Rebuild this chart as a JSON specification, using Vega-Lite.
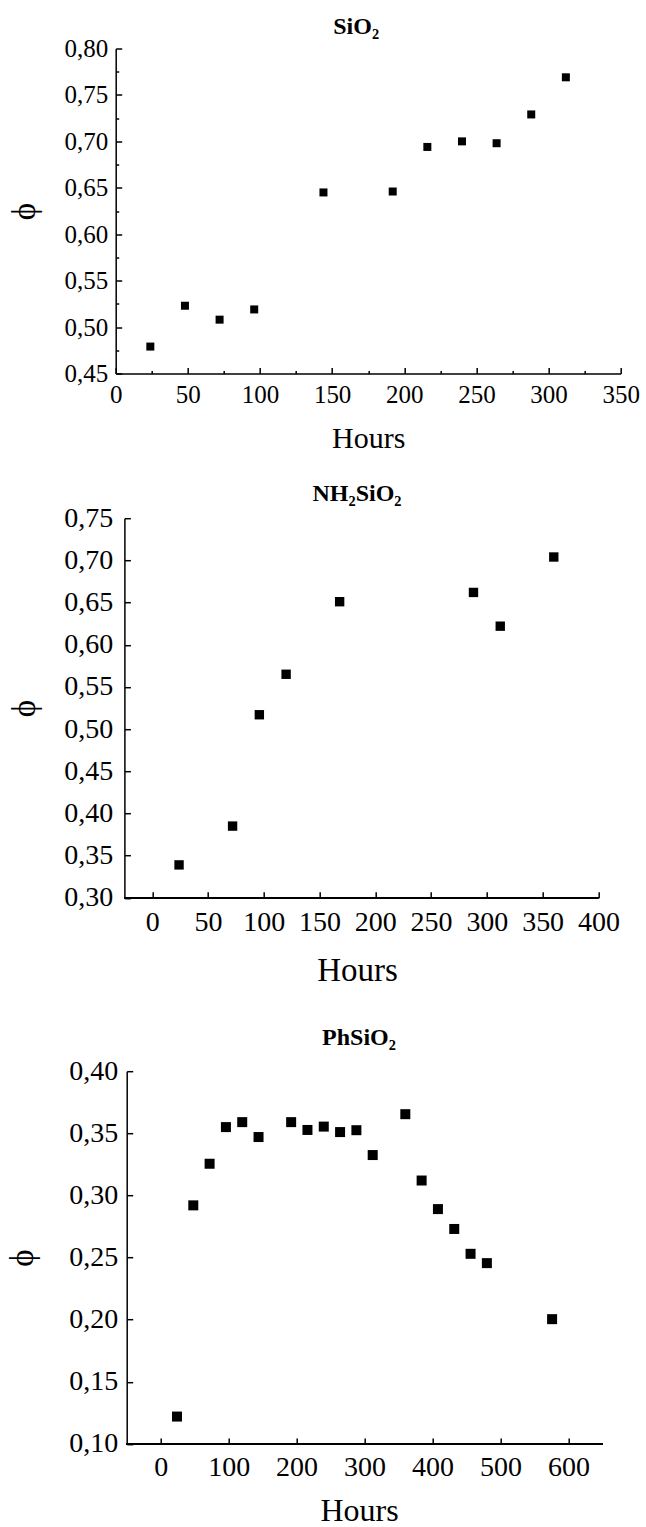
{
  "$schema": "https://vega.github.io/schema/vega-lite/v6.json",
  "padding": {"left": 5.7, "top": 14.5, "right": 0, "bottom": 0},
  "background": "white",
  "config": {
    "view": {"stroke": null},
    "axis": {
      "grid": false,
      "domainColor": "black",
      "domainWidth": 1.5,
      "tickColor": "black",
      "tickWidth": 1.5,
      "labelColor": "black",
      "titleColor": "black",
      "labelFont": "Liberation Serif",
      "titleFont": "Liberation Serif",
      "titleFontWeight": "normal",
      "labelOverlap": false,
      "labelFlush": false,
      "labelBound": false
    },
    "title": {"font": "Liberation Serif", "fontWeight": "bold", "fontSize": 24, "color": "black", "frame": "group", "anchor": "middle"}
  },
  "datasets": {
    "sio2": [
      {"hours": 24, "phi": 0.479},
      {"hours": 48, "phi": 0.523},
      {"hours": 72, "phi": 0.508},
      {"hours": 96, "phi": 0.519},
      {"hours": 144, "phi": 0.645},
      {"hours": 192, "phi": 0.646},
      {"hours": 216, "phi": 0.694},
      {"hours": 240, "phi": 0.700},
      {"hours": 264, "phi": 0.698},
      {"hours": 288, "phi": 0.729},
      {"hours": 312, "phi": 0.769}
    ],
    "nh2sio2": [
      {"hours": 24, "phi": 0.339},
      {"hours": 72, "phi": 0.385},
      {"hours": 96, "phi": 0.517},
      {"hours": 120, "phi": 0.565},
      {"hours": 168, "phi": 0.651},
      {"hours": 288, "phi": 0.662},
      {"hours": 312, "phi": 0.622},
      {"hours": 360, "phi": 0.704}
    ],
    "phsio2": [
      {"hours": 24, "phi": 0.122},
      {"hours": 48, "phi": 0.292},
      {"hours": 72, "phi": 0.3255},
      {"hours": 96, "phi": 0.355},
      {"hours": 120, "phi": 0.359},
      {"hours": 144, "phi": 0.347},
      {"hours": 192, "phi": 0.359},
      {"hours": 216, "phi": 0.3527},
      {"hours": 240, "phi": 0.3554},
      {"hours": 264, "phi": 0.351},
      {"hours": 288, "phi": 0.3525},
      {"hours": 312, "phi": 0.3325},
      {"hours": 360, "phi": 0.3654},
      {"hours": 384, "phi": 0.312},
      {"hours": 408, "phi": 0.289},
      {"hours": 432, "phi": 0.273},
      {"hours": 456, "phi": 0.253},
      {"hours": 480, "phi": 0.2455},
      {"hours": 576, "phi": 0.2004}
    ]
  },
  "columns": 1,
  "align": "none",
  "spacing": 27.7,
  "concat": [
    {
      "width": 505,
      "height": 325,
      "title": {"text": "SiO₂", "offset": -2, "dx": -12},
      "data": {"name": "sio2"},
      "mark": {"type": "point", "shape": "square", "filled": true, "color": "black", "opacity": 1, "size": 64, "strokeWidth": 0},
      "encoding": {
        "x": {
          "field": "hours", "type": "quantitative",
          "scale": {"domain": [0, 350], "nice": false, "zero": false},
          "axis": {
            "title": "Hours", "titleFontSize": 30, "titlePadding": 16,
            "labelFontSize": 25,
            "values": [0, 25, 50, 75, 100, 125, 150, 175, 200, 225, 250, 275, 300, 325, 350],
            "labelExpr": "datum.value % 50 === 0 ? format(datum.value, 'd') : ''",
            "tickSize": {"condition": {"test": "datum.value % 50 === 0", "value": -6}, "value": -3},
            "labelPadding": {"condition": {"test": "datum.value % 50 === 0", "value": 14.7}, "value": 11.7},
            "minExtent": 34, "maxExtent": 34
          }
        },
        "y": {
          "field": "phi", "type": "quantitative",
          "scale": {"domain": [0.45, 0.8], "nice": false, "zero": false},
          "axis": {
            "title": "ϕ", "titleFontSize": 33, "titlePadding": 20.7,
            "labelFontSize": 25,
            "values": [0.45, 0.475, 0.5, 0.525, 0.55, 0.575, 0.6, 0.625, 0.65, 0.675, 0.7, 0.725, 0.75, 0.775, 0.8],
            "labelExpr": "round(datum.value * 1000) % 50 === 0 ? replace(format(datum.value, '.2f'), '.', ',') : ''",
            "tickSize": {"condition": {"test": "round(datum.value * 1000) % 50 === 0", "value": -6}, "value": -3},
            "labelPadding": {"condition": {"test": "round(datum.value * 1000) % 50 === 0", "value": 14}, "value": 11},
            "minExtent": 53.3, "maxExtent": 53.3
          }
        }
      }
    },
    {
      "columns": 1,
      "align": "none",
      "spacing": 38,
      "concat": [
        {
          "width": 482.7,
          "height": 379.6,
          "title": {"text": "NH₂SiO₂", "offset": -1.3, "dx": 0},
          "data": {"name": "nh2sio2"},
          "layer": [
            {
              "mark": {"type": "rule", "color": "black", "strokeWidth": 1.5},
              "encoding": {
                "x": {"datum": -25, "type": "quantitative"},
                "x2": {"datum": 400},
                "y": {"datum": 0.3, "type": "quantitative"}
              }
            },
            {
              "mark": {"type": "point", "shape": "square", "filled": true, "color": "black", "opacity": 1, "size": 88, "strokeWidth": 0},
              "encoding": {
                "x": {
                  "field": "hours", "type": "quantitative",
                  "scale": {"domain": [-32.8, 400], "nice": false, "zero": false},
                  "axis": {
                    "title": "Hours", "titleFontSize": 33, "titlePadding": 17.6,
                    "labelFontSize": 28,
                    "domain": false,
                    "values": [0, 25, 50, 75, 100, 125, 150, 175, 200, 225, 250, 275, 300, 325, 350, 375, 400],
                    "labelExpr": "datum.value % 50 === 0 ? format(datum.value, 'd') : ''",
                    "tickSize": {"condition": {"test": "datum.value % 50 === 0", "value": -6}, "value": -3},
                    "labelPadding": {"condition": {"test": "datum.value % 50 === 0", "value": 16.6}, "value": 13.6},
                    "minExtent": 39, "maxExtent": 39
                  }
                },
                "y": {
                  "field": "phi", "type": "quantitative",
                  "scale": {"domain": [0.3, 0.75], "nice": false, "zero": false},
                  "axis": {
                    "title": "ϕ", "titleFontSize": 33, "titlePadding": 21.3,
                    "labelFontSize": 28,
                    "offset": -8.7,
                    "values": [0.3, 0.325, 0.35, 0.375, 0.4, 0.425, 0.45, 0.475, 0.5, 0.525, 0.55, 0.575, 0.6, 0.625, 0.65, 0.675, 0.7, 0.725, 0.75],
                    "labelExpr": "round(datum.value * 1000) % 50 === 0 ? replace(format(datum.value, '.2f'), '.', ',') : ''",
                    "tickSize": {"condition": {"test": "round(datum.value * 1000) % 50 === 0", "value": -6}, "value": -3},
                    "labelPadding": {"condition": {"test": "round(datum.value * 1000) % 50 === 0", "value": 17.7}, "value": 14.7},
                    "minExtent": 61.7, "maxExtent": 61.7
                  }
                }
              }
            }
          ]
        },
        {
          "width": 486.7,
          "height": 372.7,
          "title": {"text": "PhSiO₂", "offset": 7, "dx": 0},
          "data": {"name": "phsio2"},
          "layer": [
            {
              "mark": {"type": "rule", "color": "black", "strokeWidth": 1.5},
              "encoding": {
                "x": {"datum": -50, "type": "quantitative"},
                "x2": {"datum": 650},
                "y": {"datum": 0.1, "type": "quantitative"}
              }
            },
            {
              "mark": {"type": "point", "shape": "square", "filled": true, "color": "black", "opacity": 1, "size": 100, "strokeWidth": 0},
              "encoding": {
                "x": {
                  "field": "hours", "type": "quantitative",
                  "scale": {"domain": [-66.19, 650], "nice": false, "zero": false},
                  "axis": {
                    "title": "Hours", "titleFontSize": 32, "titlePadding": 14.5,
                    "labelFontSize": 28,
                    "domain": false,
                    "values": [0, 50, 100, 150, 200, 250, 300, 350, 400, 450, 500, 550, 600, 650],
                    "labelExpr": "datum.value % 100 === 0 ? format(datum.value, 'd') : ''",
                    "tickSize": {"condition": {"test": "datum.value % 100 === 0", "value": -6}, "value": -3},
                    "labelPadding": {"condition": {"test": "datum.value % 100 === 0", "value": 15.2}, "value": 12.2},
                    "minExtent": 37, "maxExtent": 37
                  }
                },
                "y": {
                  "field": "phi", "type": "quantitative",
                  "scale": {"domain": [0.1, 0.4], "nice": false, "zero": false},
                  "axis": {
                    "title": "ϕ", "titleFontSize": 33, "titlePadding": 29,
                    "labelFontSize": 28,
                    "offset": -11,
                    "values": [0.1, 0.125, 0.15, 0.175, 0.2, 0.225, 0.25, 0.275, 0.3, 0.325, 0.35, 0.375, 0.4],
                    "labelExpr": "round(datum.value * 1000) % 50 === 0 ? replace(format(datum.value, '.2f'), '.', ',') : ''",
                    "tickSize": {"condition": {"test": "round(datum.value * 1000) % 50 === 0", "value": -6}, "value": -3},
                    "labelPadding": {"condition": {"test": "round(datum.value * 1000) % 50 === 0", "value": 15}, "value": 12},
                    "minExtent": 58.3, "maxExtent": 58.3
                  }
                }
              }
            }
          ]
        }
      ]
    }
  ]
}
